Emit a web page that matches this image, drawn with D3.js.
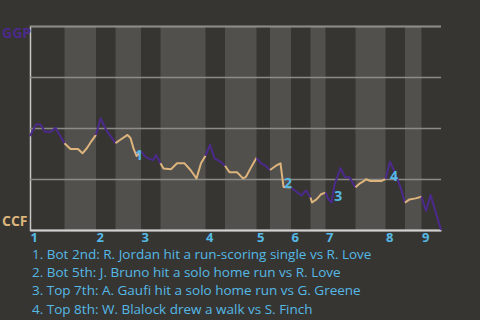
<!DOCTYPE html>
<html>
<head>
<meta charset="utf-8">
<script src="https://cdn.jsdelivr.net/npm/d3@7"></script>
<style>
  body { margin: 0; background: #373531; }
  svg { display: block; }
</style>
</head>
<body>
<script>
// win probability for GGP, x = pitch number in the game
var pitch = [0, 4, 7, 10, 14, 17, 23,
  27, 32, 35, 38, 41, 44,
  47, 51, 57,
  60, 65, 67, 69, 71, 74,
  77, 79, 82, 84, 87,
  89, 94, 98, 103, 107, 111, 114, 117,
  120, 123, 127, 130,
  133, 138, 142, 144, 147, 151,
  154, 157, 160,
  164, 167, 169, 174,
  177, 181, 184, 187,
  188, 191, 194, 197,
  199, 201, 203, 207, 210, 213, 217,
  220, 223, 224, 227, 234, 237,
  240, 243, 247, 250,
  253, 257, 261,
  264, 267, 271, 274];
var wp = [0.461, 0.517, 0.517, 0.482, 0.482, 0.501, 0.425,
  0.397, 0.397, 0.376, 0.402, 0.436, 0.466,
  0.548, 0.488, 0.426,
  0.441, 0.466, 0.451, 0.400, 0.363, 0.385,
  0.359, 0.351, 0.343, 0.368, 0.327,
  0.302, 0.298, 0.327, 0.327, 0.294, 0.253, 0.327, 0.364,
  0.417, 0.351, 0.335, 0.315,
  0.283, 0.283, 0.253, 0.261, 0.302, 0.354,
  0.327, 0.315, 0.294,
  0.315, 0.327, 0.211, 0.208,
  0.191, 0.169, 0.194, 0.159,
  0.135, 0.150, 0.175, 0.183,
  0.150, 0.134, 0.221, 0.304, 0.258, 0.258, 0.209,
  0.229, 0.242, 0.249, 0.240, 0.240, 0.250,
  0.335, 0.286, 0.209, 0.134,
  0.150, 0.155, 0.163,
  0.093, 0.172, 0.074, 0];

// half inning boundaries (pitch numbers), top halves first
var halfStarts = [0, 23, 44, 57, 74, 87, 117, 130, 151, 160, 174, 187, 197, 217, 237, 250, 261, 274];
var innings = ["1", "2", "3", "4", "5", "6", "7", "8", "9"];
var gridTicks = [0.25, 0.5, 0.75, 1];

var teams = ["GGP", "CCF"];
var annoPitch = [72.7, 172, 205.5, 242.7];
var annoWp = [0.368, 0.230, 0.165, 0.264];
var notes = [
  "1. Bot 2nd: R. Jordan hit a run-scoring single vs R. Love",
  "2. Bot 5th: J. Bruno hit a solo home run vs R. Love",
  "3. Top 7th: A. Gaufi hit a solo home run vs G. Greene",
  "4. Top 8th: W. Blalock drew a walk vs S. Finch"
];

var W = 480, H = 320;
var m = {left: 30, right: 39, top: 26, bottom: 90};
var purple = "#4b2a8c", tan = "#dcb47c", blue = "#55b9e6";
var font = "'Open Sans', sans-serif";

var svg = d3.select("body").append("svg")
  .attr("width", W)
  .attr("height", H)
  .style("background", "#373531");

var x = d3.scaleLinear()
  .domain([0, d3.max(halfStarts)])
  .range([m.left, W - m.right]);

var y = d3.scaleLinear()
  .domain([0, 1])
  .range([H - m.bottom, m.top]);

// shaded bottom halves
var halves = d3.pairs(halfStarts);
svg.append("g").selectAll("rect")
  .data(halves.filter(function(d, i) { return i % 2 == 1; }))
  .enter().append("rect")
  .attr("x", function(d) { return x(d[0]); })
  .attr("y", y(1))
  .attr("width", function(d) { return x(d[1]) - x(d[0]); })
  .attr("height", y(0) - y(1))
  .attr("fill", "#52504d");

// grid
var yAxis = svg.append("g")
  .attr("transform", "translate(" + m.left + ",0)")
  .call(d3.axisLeft(y).tickValues(gridTicks).tickSize(-(W - m.left - m.right)).tickFormat(""));
yAxis.selectAll(".tick line").attr("stroke", "#8c8b88").attr("stroke-width", 1.5);
yAxis.select(".domain").attr("stroke", "#c8c8c6").attr("stroke-width", 1.5);

// bottom axis with inning numbers
var inningStarts = halfStarts.filter(function(d, i) { return i % 2 == 0; }).slice(0, innings.length);
var xAxis = svg.append("g")
  .attr("transform", "translate(0," + y(0) + ")")
  .call(d3.axisBottom(x).tickValues(inningStarts).tickSize(0)
    .tickFormat(function(d, i) { return innings[i]; }));
xAxis.select(".domain").attr("stroke", "#d0d0ce").attr("stroke-width", 2);
xAxis.selectAll("text")
  .attr("text-anchor", "start")
  .attr("dy", "0.95em")
  .attr("y", 0)
  .attr("fill", blue)
  .style("font", "bold 13px " + font);

// win probability line, coloured by half inning
var points = pitch.map(function(p, i) { return [p, wp[i]]; });
var line = d3.line()
  .x(function(d) { return x(d[0]); })
  .y(function(d) { return y(d[1]); });

svg.append("g").selectAll("path")
  .data(halves)
  .enter().append("path")
  .attr("d", function(h) {
    return line(points.filter(function(d) { return d[0] >= h[0] && d[0] <= h[1]; }));
  })
  .attr("fill", "none")
  .attr("stroke", function(h, i) { return i % 2 == 0 ? purple : tan; })
  .attr("stroke-width", 2)
  .attr("stroke-linejoin", "round");

// event markers
svg.append("g").selectAll("text")
  .data(annoPitch)
  .enter().append("text")
  .attr("x", function(d) { return x(d); })
  .attr("y", function(d, i) { return y(annoWp[i]); })
  .attr("dy", "0.35em")
  .attr("text-anchor", "middle")
  .attr("fill", blue)
  .style("font", "bold 14px " + font)
  .text(function(d, i) { return i + 1; });

// team labels
svg.append("text")
  .attr("x", 2).attr("y", y(1) + 12)
  .attr("fill", purple)
  .style("font", "bold 14px " + font)
  .text(teams[0]);
svg.append("text")
  .attr("x", 2).attr("y", y(0) - 4)
  .attr("fill", tan)
  .style("font", "bold 14px " + font)
  .text(teams[1]);

// notes under the chart
svg.append("g").selectAll("text")
  .data(notes)
  .enter().append("text")
  .attr("x", 32)
  .attr("y", function(d, i) { return 259 + i * 18.2; })
  .attr("fill", blue)
  .style("font", "13.5px " + font)
  .text(function(d) { return d; });
</script>
</body>
</html>
